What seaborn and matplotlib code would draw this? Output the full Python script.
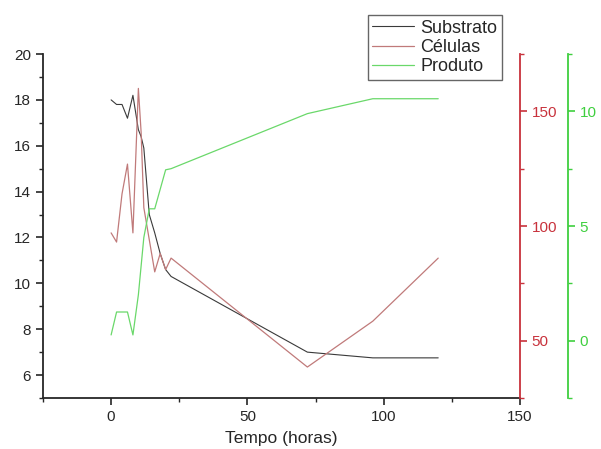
import pandas as pd
import matplotlib.pyplot as plt
import seaborn as sns
import matplotlib.ticker as ticker

sns.set_style('ticks')
plt.rcParams['font.family'] = ['Liberation Sans', 'DejaVu Sans']
plt.rcParams['axes.linewidth'] = 1.3

# tempo (horas) para cada série
tempo_s = [0, 2, 4, 6, 8, 10, 11, 12, 14, 16, 18, 20, 22, 72, 96, 120]
substrato = [18.0, 17.8, 17.8, 17.2, 18.2, 16.7, 16.4, 15.9, 13.0, 12.2, 11.3, 10.6, 10.3, 7.0, 6.75, 6.75]

tempo_c = [0, 2, 4, 6, 8, 10, 11, 12, 16, 18, 20, 22, 72, 96, 120]
celulas = [97, 93, 114, 127, 97, 160, 141, 108, 80, 88, 81, 86, 38.5, 58.5, 86]

tempo_p = [0, 2, 6, 8, 10, 12, 14, 16, 20, 22, 72, 96, 120]
produto = [0.25, 1.25, 1.25, 0.25, 2.0, 4.5, 5.75, 5.75, 7.45, 7.5, 9.9, 10.55, 10.55]

cor_sub = '#3a3a3a'
cor_cel = '#c07a7a'
cor_prod = '#6ad86a'
eixo_vermelho = '#c8323c'
eixo_verde = '#3fcf3f'

df_s = pd.DataFrame({'Tempo': tempo_s, 'Substrato': substrato})
df_c = pd.DataFrame({'Tempo': tempo_c, 'Células': celulas})
df_p = pd.DataFrame({'Tempo': tempo_p, 'Produto': produto})

fig = plt.figure(figsize=(6.01, 4.49), dpi=100)
ax = fig.add_axes([0.0715, 0.1136, 0.7937, 0.7661])
ax2 = ax.twinx()
ax3 = ax.twinx()

sns.lineplot(x='Tempo', y='Substrato', data=df_s, ax=ax, color=cor_sub, lw=0.8, label='Substrato', legend=False)
sns.lineplot(x='Tempo', y='Células', data=df_c, ax=ax2, color=cor_cel, lw=0.9, label='Células', legend=False)
sns.lineplot(x='Tempo', y='Produto', data=df_p, ax=ax3, color=cor_prod, lw=0.9, label='Produto', legend=False)

# eixo principal
ax.set_xlim(-25, 150)
ax.set_ylim(5, 20)
ax.xaxis.set_major_locator(ticker.MultipleLocator(50))
ax.xaxis.set_minor_locator(ticker.MultipleLocator(25))
ax.yaxis.set_minor_locator(ticker.MultipleLocator(1))
ax.set_yticks([6, 8, 10, 12, 14, 16, 18, 20])
ax.set_xlabel('Tempo (horas)', fontsize=12.5, labelpad=5)
ax.set_ylabel('')
ax.spines['top'].set_visible(False)
ax.spines['right'].set_visible(False)
ax.tick_params(which='major', length=5, width=1.2, labelsize=11)
ax.tick_params(which='minor', length=3, width=1.0)

# eixo das células (vermelho)
ax2.set_ylim(25, 175)
ax2.yaxis.set_major_locator(ticker.MultipleLocator(50))
ax2.yaxis.set_minor_locator(ticker.MultipleLocator(25))
ax2.set_ylabel('')
for s in ['top', 'left', 'bottom']:
    ax2.spines[s].set_visible(False)
ax2.spines['right'].set_color(eixo_vermelho)
ax2.tick_params(axis='y', which='both', colors=eixo_vermelho, labelcolor=eixo_vermelho)
ax2.tick_params(which='major', length=5, width=1.2, labelsize=11)
ax2.tick_params(which='minor', length=3, width=1.0)

# eixo do produto (verde)
ax3.set_ylim(-2.5, 12.5)
ax3.yaxis.set_major_locator(ticker.MultipleLocator(5))
ax3.yaxis.set_minor_locator(ticker.MultipleLocator(2.5))
ax3.set_ylabel('')
for s in ['top', 'left', 'bottom']:
    ax3.spines[s].set_visible(False)
ax3.spines['right'].set_position(('outward', 34.5))
ax3.spines['right'].set_color(eixo_verde)
ax3.tick_params(axis='y', which='both', colors=eixo_verde, labelcolor=eixo_verde)
ax3.tick_params(which='major', length=5, width=1.2, labelsize=11)
ax3.tick_params(which='minor', length=3, width=1.0)

# legenda
handles = []
labels = []
for a in [ax, ax2, ax3]:
    h, l = a.get_legend_handles_labels()
    handles += h
    labels += l
leg = ax3.legend(handles, labels, loc='upper right', bbox_to_anchor=(0.962, 1.113),
                 fontsize=13, frameon=True, fancybox=False, framealpha=1,
                 edgecolor='#666666', handlelength=2.3, labelspacing=0.12,
                 borderpad=0.25, handletextpad=0.35, borderaxespad=0)
leg.get_frame().set_linewidth(1.0)

plt.savefig('out.png', dpi=100)
